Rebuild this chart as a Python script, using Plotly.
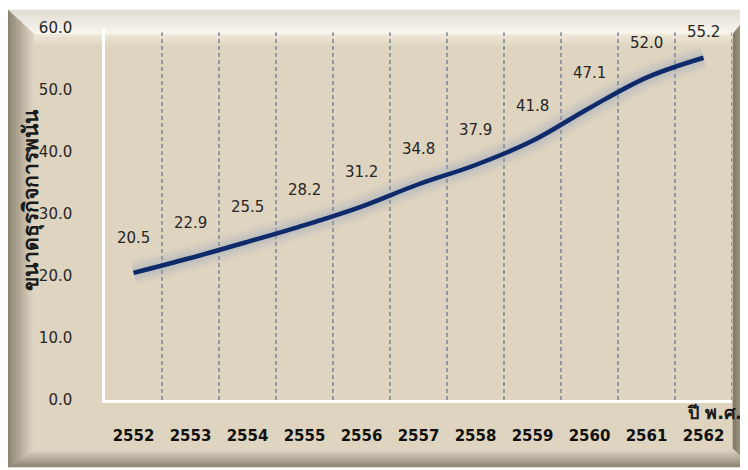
import plotly.graph_objects as go

years = ["2552", "2553", "2554", "2555", "2556", "2557", "2558", "2559", "2560", "2561", "2562"]
values = [20.5, 22.9, 25.5, 28.2, 31.2, 34.8, 37.9, 41.8, 47.1, 52.0, 55.2]
y_ticks = [0, 10, 20, 30, 40, 50, 60]
y_title = "ขนาดธุรกิจการพนัน"
x_title = "ปี พ.ศ."

OFF = 8  # page body margin
W, H = 748 - OFF, 470 - OFF
L, T = 105 - OFF, 28 - OFF
R = W - (732 - OFF)
B = H - (400 - OFF)
PW, PH = W - L - R, H - T - B

def px(xp):  # page pixel -> paper
    return (xp - OFF - L) / PW

def py(yp):
    return (H - B - (yp - OFF)) / PH

FONT = "Tahoma, 'DejaVu Sans', 'Noto Sans', sans-serif"
xs = list(range(len(years)))

fig = go.Figure()
# soft glow
for w, a in [(26, 0.08), (20, 0.10), (14, 0.13), (9, 0.16)]:
    fig.add_trace(go.Scatter(x=xs, y=values, mode="lines",
                             line=dict(color="rgba(150,165,195,%.2f)" % a, width=w, shape="spline"),
                             hoverinfo="skip", showlegend=False))
fig.add_trace(go.Scatter(x=xs, y=values, mode="lines", line=dict(color="#0E2A6A", width=4.5, shape="spline"), showlegend=False))

shapes = []
# bevel frame (page coords)
ox0, oy0, ox1, oy1 = 8, 10, 752, 467
ix0, iy0, ix1, iy1 = 34, 34, 733, 449
shapes.append(dict(type="rect", xref="paper", yref="paper", x0=px(ox0), x1=px(ox1), y0=py(oy1), y1=py(oy0),
                   fillcolor="#DFD4BF", line=dict(width=0), layer="below"))

def lerp(a, b, t):
    return a + (b - a) * t

def mix(c1, c2, t):
    return "rgb(%d,%d,%d)" % tuple(int(lerp(c1[i], c2[i], t)) for i in range(3))

faces = {
    "top": ((225, 221, 212), (250, 247, 238)),
    "left": ((140, 130, 112), (224, 215, 198)),
    "right": ((200, 190, 172), (130, 120, 104)),
    "bottom": ((140, 130, 112), (224, 216, 200)),
}
N = 12
for i in range(N):
    t0, t1 = i / N, (i + 1) / N
    a = (lerp(ox0, ix0, t0), lerp(oy0, iy0, t0), lerp(ox1, ix1, t0), lerp(oy1, iy1, t0))
    b = (lerp(ox0, ix0, t1), lerp(oy0, iy0, t1), lerp(ox1, ix1, t1), lerp(oy1, iy1, t1))
    tm = (t0 + t1) / 2
    polys = {
        "top": [(a[0], a[1]), (a[2], a[1]), (b[2], b[1]), (b[0], b[1])],
        "left": [(a[0], a[1]), (b[0], b[1]), (b[0], b[3]), (a[0], a[3])],
        "right": [(a[2], a[1]), (a[2], a[3]), (b[2], b[3]), (b[2], b[1])],
        "bottom": [(a[0], a[3]), (a[2], a[3]), (b[2], b[3]), (b[0], b[3])],
    }
    for k, pts in polys.items():
        c1, c2 = faces[k]
        path = "M " + " L ".join("%.5f,%.5f" % (px(p[0]), py(p[1])) for p in pts) + " Z"
        shapes.append(dict(type="path", xref="paper", yref="paper", path=path,
                           fillcolor=mix(c1, c2, tm), line=dict(width=0.6, color=mix(c1, c2, tm)), layer="below"))
# light band just under top bevel
for j, a in enumerate([0.55, 0.4, 0.25, 0.12]):
    shapes.append(dict(type="rect", xref="paper", yref="paper", x0=px(ix0), x1=px(ix1),
                       y0=py(iy0 + 3 * (j + 1)), y1=py(iy0 + 3 * j),
                       fillcolor="rgba(248,243,232,%.2f)" % a, line=dict(width=0), layer="below"))

# dashed vertical gridlines at category boundaries
for i in range(len(years)):
    shapes.append(dict(type="line", xref="x", yref="y", x0=i + 0.5, x1=i + 0.5, y0=0, y1=59.3,
                       line=dict(color="#6B7891", width=1.3, dash="4px,3px"), layer="below"))

fig.update_layout(shapes=shapes)

annotations = []
for i, v in enumerate(values):
    ys = 35 if v < 54 else 26
    annotations.append(dict(x=i, y=v, xref="x", yref="y", text="%.1f" % v, showarrow=False, yshift=ys,
                            font=dict(family=FONT, size=15, color="#262626")))
annotations.append(dict(x=px(27), y=py(205), xref="paper", yref="paper", text="<b>%s</b>" % y_title, textangle=-90,
                        showarrow=False, xshift=-10, yshift=5,
                        font=dict(family=FONT, size=21, color="#1A1A1A")))
annotations.append(dict(x=px(718), y=py(411), xref="paper", yref="paper", text="<b>%s</b>" % x_title,
                        showarrow=False, xshift=26, yshift=-14,
                        font=dict(family=FONT, size=18, color="#1A1A1A")))
fig.update_layout(annotations=annotations)

fig.update_layout(
    width=W, height=H,
    margin=dict(l=L, r=R, t=T, b=B, pad=0),
    paper_bgcolor="white",
    plot_bgcolor="rgba(0,0,0,0)",
    showlegend=False,
    xaxis=dict(range=[-0.5, len(years) - 0.5], tickmode="array", tickvals=xs, ticktext=["<b>%s</b>" % y for y in years],
               showgrid=False, zeroline=False, showline=True, linecolor="white", linewidth=2.5,
               ticks="outside", ticklen=20, tickcolor="rgba(0,0,0,0)",
               tickfont=dict(family=FONT, size=15, color="#111111"), fixedrange=True),
    yaxis=dict(range=[0, 60], tickmode="array", tickvals=y_ticks, ticktext=["%.1f" % v for v in y_ticks],
               showgrid=False, zeroline=False, showline=True, linecolor="white", linewidth=2.5,
               ticks="outside", ticklen=27, tickcolor="rgba(0,0,0,0)",
               tickfont=dict(family=FONT, size=15, color="#262626"), fixedrange=True),
)

fig.write_html("out.html")
